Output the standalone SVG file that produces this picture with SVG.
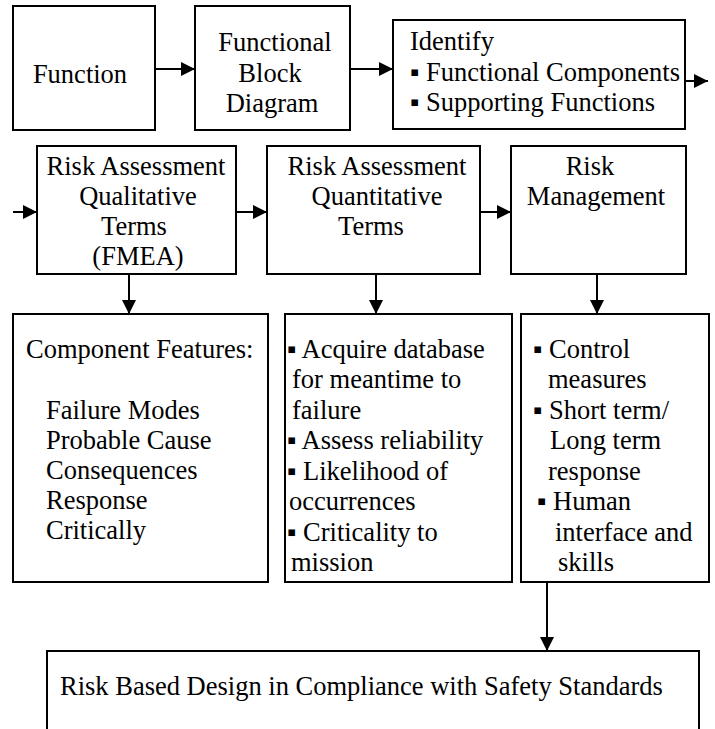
<svg xmlns="http://www.w3.org/2000/svg" width="715" height="729" viewBox="0 0 715 729">
<style>
.box{fill:#fff;stroke:#000;stroke-width:2}
.t{font-family:"Liberation Serif","Times New Roman",serif;font-size:26.5px;fill:#000}
.c{text-anchor:middle}
.ln{stroke:#000;stroke-width:2;fill:none}
</style>
<defs>
<marker id="ah" markerUnits="userSpaceOnUse" markerWidth="14" markerHeight="14" refX="14" refY="7" orient="auto">
<path d="M0,0 L14,7 L0,14 Z" fill="#000"/>
</marker>
</defs>
<rect width="715" height="729" fill="#fff"/>
<g id="connectors">
<path class="ln" d="M155,69 L195,69" marker-end="url(#ah)"/>
<path class="ln" d="M350,69 L393,69" marker-end="url(#ah)"/>
<path class="ln" d="M685,81 L708,81" marker-end="url(#ah)"/>
<path class="ln" d="M13,212 L37,212" marker-end="url(#ah)"/>
<path class="ln" d="M236,212 L267,212" marker-end="url(#ah)"/>
<path class="ln" d="M480,212 L511,212" marker-end="url(#ah)"/>
<path class="ln" d="M129,274 L129,314" marker-end="url(#ah)"/>
<path class="ln" d="M376,274 L376,314" marker-end="url(#ah)"/>
<path class="ln" d="M597,274 L597,314" marker-end="url(#ah)"/>
<path class="ln" d="M547,582 L547,651" marker-end="url(#ah)"/>
</g>
<g id="function">
<rect class="box" x="13" y="6" width="142" height="124"/>
<text class="t c" x="80" y="83">Function</text>
</g>
<g id="fbd">
<rect class="box" x="195" y="6" width="155" height="124"/>
<text class="t c" x="275" y="51">Functional</text>
<text class="t c" x="270" y="82">Block</text>
<text class="t c" x="272" y="112">Diagram</text>
</g>
<g id="identify">
<rect class="box" x="393" y="20" width="292" height="109"/>
<text class="t" x="410" y="50">Identify</text>
<text class="t" x="410" y="81">▪ Functional Components</text>
<text class="t" x="410" y="111">▪ Supporting Functions</text>
</g>
<g id="qualitative">
<rect class="box" x="37" y="146" width="199" height="128"/>
<text class="t c" x="136" y="175">Risk Assessment</text>
<text class="t c" x="138" y="205">Qualitative</text>
<text class="t c" x="134" y="235">Terms</text>
<text class="t c" x="138" y="265">(FMEA)</text>
</g>
<g id="quantitative">
<rect class="box" x="267" y="146" width="213" height="128"/>
<text class="t c" x="377" y="175">Risk Assessment</text>
<text class="t c" x="377" y="205">Quantitative</text>
<text class="t c" x="371" y="235">Terms</text>
</g>
<g id="management">
<rect class="box" x="511" y="146" width="175" height="128"/>
<text class="t c" x="590" y="175">Risk</text>
<text class="t c" x="596" y="205">Management</text>
</g>
<g id="features">
<rect class="box" x="13" y="314" width="255" height="268"/>
<text class="t" x="26" y="358">Component Features:</text>
<text class="t" x="46" y="419">Failure Modes</text>
<text class="t" x="46" y="449">Probable Cause</text>
<text class="t" x="46" y="479">Consequences</text>
<text class="t" x="46" y="509">Response</text>
<text class="t" x="46" y="539">Critically</text>
</g>
<g id="quant-list">
<rect class="box" x="285" y="314" width="227" height="268"/>
<text class="t" x="287" y="358">▪ Acquire database</text>
<text class="t" x="292" y="388">for meantime to</text>
<text class="t" x="292" y="419">failure</text>
<text class="t" x="287" y="449">▪ Assess reliability</text>
<text class="t" x="287" y="480">▪ Likelihood of</text>
<text class="t" x="289" y="510">occurrences</text>
<text class="t" x="287" y="541">▪ Criticality to</text>
<text class="t" x="291" y="571">mission</text>
</g>
<g id="mgmt-list">
<rect class="box" x="521" y="314" width="188" height="268"/>
<text class="t" x="533" y="358">▪ Control</text>
<text class="t" x="548" y="388">measures</text>
<text class="t" x="533" y="419">▪ Short term/</text>
<text class="t" x="550" y="449">Long term</text>
<text class="t" x="548" y="480">response</text>
<text class="t" x="537" y="510">▪ Human</text>
<text class="t" x="555" y="541">interface and</text>
<text class="t" x="558" y="571">skills</text>
</g>
<g id="design">
<rect class="box" x="47" y="651" width="652" height="100"/>
<text class="t" x="60" y="695">Risk Based Design in Compliance with Safety Standards</text>
</g>
</svg>
